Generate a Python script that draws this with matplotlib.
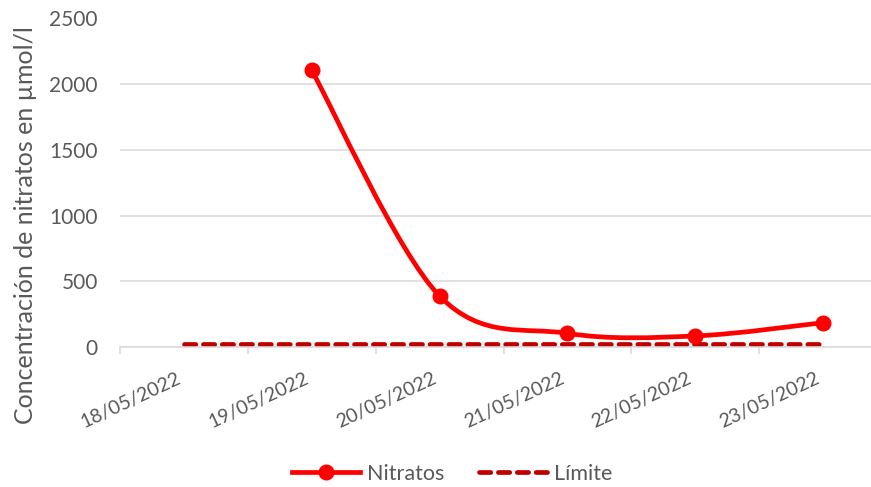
import matplotlib
matplotlib.use("Agg")
import matplotlib.pyplot as plt
import matplotlib.transforms as mtransforms
import numpy as np
from matplotlib.lines import Line2D
from matplotlib.path import Path
from matplotlib.patches import PathPatch

# datos
fechas = ["18/05/2022", "19/05/2022", "20/05/2022", "21/05/2022", "22/05/2022", "23/05/2022"]
nitratos = [np.nan, 2105, 388, 104, 84, 185]
limite = [25, 25, 25, 25, 25, 25]

ROJO = "#FF0000"
ROJO_OSC = "#C00000"
GRIS_TXT = "#595959"
GRIS_LIN = "#D9D9D9"

plt.rcParams["font.family"] = ["Lato", "DejaVu Sans"]


def _curva_suave(x, y):
    """Curva tipo Excel (Catmull-Rom -> Bezier) a partir de los puntos."""
    pts = np.column_stack([x, y])
    n = len(pts)
    verts = [pts[0]]
    codes = [Path.MOVETO]
    for i in range(n - 1):
        p0 = pts[i - 1] if i > 0 else pts[i]
        p1 = pts[i]
        p2 = pts[i + 1]
        p3 = pts[i + 2] if i + 2 < n else pts[i + 1]
        c1 = p1 + (p2 - p0) / 6.0
        c2 = p2 - (p3 - p1) / 6.0
        verts += [c1, c2, p2]
        codes += [Path.CURVE4] * 3
    return Path(verts, codes)


fig = plt.figure(figsize=(8.71, 4.87), dpi=100)
ax = fig.add_axes([120 / 871, 1 - 347 / 487, (887 - 120) / 871, (347 - 18.5) / 487])

x = np.arange(len(fechas))
y = np.array(nitratos, dtype=float)
ok = ~np.isnan(y)

# límite
ax.plot(x, limite, color=ROJO_OSC, linewidth=3.4, linestyle=(0, (2.4, 1.6)),
        dash_capstyle="round", zorder=2)

# nitratos (línea suavizada + marcadores)
curva = PathPatch(_curva_suave(x[ok], y[ok]), facecolor="none", edgecolor=ROJO,
                  linewidth=3.4, capstyle="round", joinstyle="round", zorder=3)
ax.add_patch(curva)
ax.plot(x[ok], y[ok], linestyle="none", marker="o", markersize=10.5, color=ROJO, zorder=4)

ax.set_xlim(-0.5, len(fechas) - 0.5)
ax.set_ylim(0, 2500)
ax.set_yticks(np.arange(0, 2501, 500))
ax.yaxis.grid(True, color=GRIS_LIN, linewidth=1.1)
ax.set_axisbelow(True)

for s in ["top", "right", "left"]:
    ax.spines[s].set_visible(False)
ax.spines["bottom"].set_color(GRIS_LIN)
ax.spines["bottom"].set_linewidth(1.1)

ax.tick_params(axis="y", length=0, labelsize=15, labelcolor=GRIS_TXT, pad=16)

# etiquetas en el centro de cada categoría, marcas en los bordes
ax.set_xticks(x)
ax.set_xticklabels(fechas, rotation=25, ha="right", rotation_mode="anchor")
ax.tick_params(axis="x", which="major", length=0, labelsize=14, labelcolor=GRIS_TXT, pad=16)
ax.set_xticks(np.arange(-0.5, len(fechas), 1.0), minor=True)
ax.tick_params(axis="x", which="minor", length=5, color=GRIS_LIN, width=1.1)
desplaza = mtransforms.ScaledTranslation(-8 / 100, 0, fig.dpi_scale_trans)
for lab in ax.get_xticklabels():
    lab.set_transform(lab.get_transform() + desplaza)

ax.set_ylabel("Concentración de nitratos en µmol/l", fontsize=18, color=GRIS_TXT)
ax.yaxis.set_label_coords(-(120 - 37) / 767, 0.37)

handles = [
    Line2D([], [], color=ROJO, linewidth=3.4, marker="o", markersize=10.5),
    Line2D([], [], color=ROJO_OSC, linewidth=3.4, linestyle=(0, (2.4, 1.6)), dash_capstyle="round"),
]
fig.legend(handles, ["Nitratos", "Límite"], loc="center", bbox_to_anchor=(452 / 871, 1 - 474 / 487),
           ncol=2, frameon=False, fontsize=15.5, handlelength=3.2, columnspacing=1.6,
           labelcolor=GRIS_TXT, handletextpad=0.3)

fig.savefig("out.png", dpi=100)
